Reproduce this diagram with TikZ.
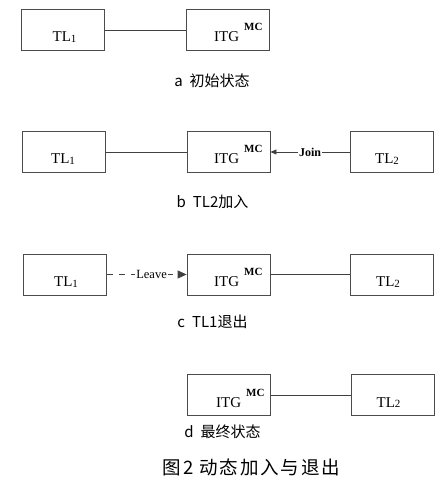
\documentclass[tikz,border=0pt]{standalone}
\usepackage{fontspec}
\setmainfont{Liberation Serif}
\newfontfamily\cjk{Noto Sans CJK SC}
\newfontfamily\cjkw[LetterSpace=10]{Noto Sans CJK SC}
\usetikzlibrary{arrows.meta}
\newcommand\TLtext[1]{TL\raisebox{-0.5pt}{\fontsize{11}{11}\selectfont #1}}
\newcommand\ITGtext{ITG\hspace{5pt}\raisebox{11pt}{\fontsize{11}{11}\selectfont\bfseries MC}}
\begin{document}
\begin{tikzpicture}[x=1pt,y=-1pt,
  box/.style={draw=black!70, line width=0.8pt, minimum width=83pt, minimum height=41pt, inner sep=0pt},
  boxtext/.style={font=\fontsize{15}{15}\selectfont, inner sep=0pt, anchor=base},
  link/.style={draw=black!75, line width=0.8pt},
  caption/.style={font=\cjk\fontsize{15}{15}\selectfont, inner sep=0pt},
  msg/.style={font=\fontsize{12.5}{12.5}\selectfont, inner sep=1pt, fill=white}]
\useasboundingbox (0,0) rectangle (446,486);
% row a
\node[box] (tl1a) at (63,30) {};
\node[box] (itga) at (228,30) {};
\node[boxtext] (tl1aT) at (64.5,42) {\TLtext{1}};
\node[boxtext, anchor=base west] (itgaT) at (214,42) {\ITGtext};
\draw[link] (tl1a) -- (itga);
\node[caption] (capa) at (212,81) {a\hspace{7pt}初始状态};
% row b
\node[box] (tl1b) at (63.5,152) {};
\node[box] (itgb) at (228.5,152) {};
\node[box] (tl2b) at (391.5,152) {};
\node[boxtext] (tl1bT) at (63,164) {\TLtext{1}};
\node[boxtext, anchor=base west] (itgbT) at (214,164) {\ITGtext};
\node[boxtext] (tl2bT) at (387,164) {\TLtext{2}};
\draw[link] (tl1b) -- (itgb);
\draw[link, -{Triangle[length=6pt,width=5pt]}] (tl2b) -- node[msg, font=\fontsize{12}{12}\selectfont\bfseries] (join) {Join} (itgb);
\node[caption] (capb) at (212.5,202) {b\hspace{7pt}TL2加入};
% row c
\node[box] (tl1c) at (65,274.5) {};
\node[box] (itgc) at (228.5,274.5) {};
\node[box] (tl2c) at (392,274.5) {};
\node[boxtext] (tl1cT) at (66,286.5) {\TLtext{1}};
\node[boxtext, anchor=base west] (itgcT) at (214,286.5) {\ITGtext};
\node[boxtext] (tl2cT) at (388,286.5) {\TLtext{2}};
\draw[link, dash pattern=on 6pt off 6pt, -{Triangle[length=9pt,width=8pt]}] (tl1c) -- node[msg, pos=0.56] (leave) {Leave} (itgc);
\draw[link] (itgc) -- (tl2c);
\node[caption] (capc) at (212.5,322) {c\hspace{7pt}TL1退出};
% row d
\node[box] (itgd) at (229,395) {};
\node[box] (tl2d) at (392.5,395) {};
\node[boxtext, anchor=base west] (itgdT) at (216,407) {\ITGtext};
\node[boxtext] (tl2dT) at (388.5,407) {\TLtext{2}};
\draw[link] (itgd) -- (tl2d);
\node[caption] (capd) at (222.5,432) {d\hspace{7pt}最终状态};
% title
\node[inner sep=0pt, font=\cjkw\fontsize{18.5}{18.5}\selectfont] (title) at (251.5,467) {图2\hspace{6pt}动态加入与退出};
\end{tikzpicture}
\end{document}
